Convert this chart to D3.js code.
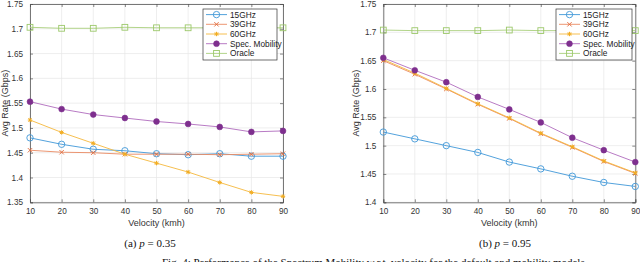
<!DOCTYPE html>
<html><head><meta charset="utf-8">
<script src="https://cdn.jsdelivr.net/npm/d3@7"></script>
<style>
html,body{margin:0;padding:0;background:#fff;overflow:hidden;}
svg{display:block;}
text{font-family:"Liberation Sans",Arial,sans-serif;}
</style></head>
<body>
<svg id="c" width="640" height="262"></svg>
<script>
const velocities = [10,20,30,40,50,60,70,80,90];
const seriesNames = ["15GHz","39GHz","60GHz","Spec. Mobility","Oracle"];

// (a) p = 0.35
const a15 = [1.480,1.467,1.457,1.454,1.448,1.446,1.448,1.443,1.443];
const a39 = [1.455,1.451,1.450,1.447,1.447,1.447,1.446,1.447,1.448];
const a60 = [1.516,1.491,1.469,1.447,1.429,1.411,1.390,1.370,1.362];
const aSpec = [1.553,1.538,1.527,1.520,1.513,1.508,1.502,1.492,1.494];
const aOracle = [1.703,1.701,1.701,1.703,1.702,1.702,1.702,1.702,1.702];
const aTicks = [1.35,1.4,1.45,1.5,1.55,1.6,1.65,1.7,1.75];

// (b) p = 0.95
const b15 = [1.524,1.512,1.500,1.488,1.471,1.459,1.446,1.435,1.428];
const b39 = [1.650,1.626,1.600,1.573,1.548,1.521,1.497,1.472,1.451];
const b60 = [1.652,1.628,1.601,1.574,1.549,1.522,1.498,1.473,1.452];
const bSpec = [1.655,1.633,1.612,1.586,1.564,1.541,1.514,1.492,1.471];
const bOracle = [1.704,1.703,1.703,1.703,1.704,1.703,1.703,1.703,1.703];
const bTicks = [1.4,1.45,1.5,1.55,1.6,1.65,1.7,1.75];

const xTicks = [10,20,30,40,50,60,70,80,90];

const styles = [
  {line:"#3f97d8", mk:"circle", stroke:"#3f97d8", fill:"none"},
  {line:"#ea8a62", mk:"x", stroke:"#e0693a", fill:"none"},
  {line:"#f5b83c", mk:"star", stroke:"#f2ad22", fill:"#f2ad22"},
  {line:"#b06cbd", mk:"dot", stroke:"#7E2F8E", fill:"#7E2F8E"},
  {line:"#a9cf7c", mk:"square", stroke:"#9cc86a", fill:"none"}
];

const svg = d3.select("#c");

function marker(g, type, x, y, st){
  if(type==="circle"){
    g.append("circle").attr("cx",x).attr("cy",y).attr("r",3.2)
     .attr("fill","none").attr("stroke",st.stroke).attr("stroke-width",0.9);
  } else if(type==="dot"){
    g.append("circle").attr("cx",x).attr("cy",y).attr("r",2.9)
     .attr("fill",st.fill).attr("stroke",st.stroke).attr("stroke-width",0.6);
  } else if(type==="square"){
    g.append("rect").attr("x",x-2.9).attr("y",y-2.9).attr("width",5.8).attr("height",5.8)
     .attr("fill","none").attr("stroke",st.stroke).attr("stroke-width",0.9);
  } else if(type==="x"){
    const s=2.2;
    g.append("path").attr("d",`M${x-s},${y-s}L${x+s},${y+s}M${x-s},${y+s}L${x+s},${y-s}`)
     .attr("stroke",st.stroke).attr("stroke-width",0.9);
  } else if(type==="star"){
    const s=2.2;
    g.append("path").attr("d",`M${x-s},${y}L${x+s},${y}M${x},${y-s}L${x},${y+s}M${x-s*0.75},${y-s*0.75}L${x+s*0.75},${y+s*0.75}M${x-s*0.75},${y+s*0.75}L${x+s*0.75},${y-s*0.75}`)
     .attr("stroke",st.stroke).attr("stroke-width",1);
  }
}

function panel(opts){
  const {x0,x1,y0,y1,yDomain,yTicks,data,legend,ylabelX} = opts;
  const x = d3.scaleLinear().domain([10,90]).range([x0,x1]);
  const y = d3.scaleLinear().domain(yDomain).range([y1,y0]);
  const g = svg.append("g");
  // grid
  g.append("g").selectAll("line.gx").data(xTicks).join("line")
    .attr("x1",d=>x(d)).attr("x2",d=>x(d)).attr("y1",y0).attr("y2",y1)
    .attr("stroke","#e6e6e6").attr("stroke-width",0.7);
  g.append("g").selectAll("line.gy").data(yTicks).join("line")
    .attr("x1",x0).attr("x2",x1).attr("y1",d=>y(d)).attr("y2",d=>y(d))
    .attr("stroke","#e6e6e6").attr("stroke-width",0.7);
  // axes with d3
  const ax = g.append("g").attr("transform",`translate(0,${y1})`)
    .call(d3.axisBottom(x).tickValues(xTicks).tickSize(-3).tickPadding(6).tickFormat(d3.format("d")));
  const axT = g.append("g").attr("transform",`translate(0,${y0})`)
    .call(d3.axisTop(x).tickValues(xTicks).tickSize(-3).tickFormat(""));
  const ay = g.append("g").attr("transform",`translate(${x0},0)`)
    .call(d3.axisLeft(y).tickValues(yTicks).tickSize(-3).tickPadding(7).tickFormat(d=>d3.format("")(+d.toFixed(2))));
  const ayR = g.append("g").attr("transform",`translate(${x1},0)`)
    .call(d3.axisRight(y).tickValues(yTicks).tickSize(-3).tickFormat(""));
  [ax,axT,ay,ayR].forEach(a=>{
    a.select(".domain").attr("stroke","#555").attr("stroke-width",0.8);
    a.selectAll(".tick line").attr("stroke","#555").attr("stroke-width",0.7);
    a.selectAll(".tick text").attr("fill","#333").style("font-size","8.2px").style("font-family","Liberation Sans, Arial, sans-serif");
  });
  // lines
  data.forEach((vals,i)=>{
    const st = styles[i];
    const line = d3.line().x((d,j)=>x(velocities[j])).y(d=>y(d));
    g.append("path").attr("d",line(vals)).attr("fill","none")
      .attr("stroke",st.line).attr("stroke-width",0.9);
    const mg = g.append("g");
    vals.forEach((v,j)=>marker(mg, st.mk, x(velocities[j]), y(v), st));
  });
  // labels
  g.append("text").attr("x",(x0+x1)/2).attr("y",226).attr("text-anchor","middle")
    .attr("fill","#333").style("font-size","9px").text("Velocity (kmh)");
  g.append("text").attr("transform",`translate(${ylabelX},${(y0+y1)/2}) rotate(-90)`)
    .attr("text-anchor","middle").attr("fill","#333").style("font-size","9px").text("Avg Rate (Gbps)");
  // legend
  const L = g.append("g");
  L.append("rect").attr("x",legend.x).attr("y",legend.y).attr("width",legend.w).attr("height",51)
    .attr("fill","#fff").attr("stroke","#333").attr("stroke-width",0.7);
  seriesNames.forEach((nm,i)=>{
    const ry = legend.y + 5.6 + i*9.7;
    const st = styles[i];
    L.append("line").attr("x1",legend.x+3).attr("x2",legend.x+24).attr("y1",ry).attr("y2",ry)
      .attr("stroke",st.line).attr("stroke-width",0.9);
    marker(L, st.mk, legend.x+13.5, ry, st);
    L.append("text").attr("x",legend.x+27).attr("y",ry+3).attr("fill","#222")
      .style("font-size","8.3px").text(nm);
  });
}

panel({x0:30,x1:283,y0:4,y1:202.3,yDomain:[1.35,1.75],yTicks:aTicks,
  data:[a15,a39,a60,aSpec,aOracle],legend:{x:203,y:9,w:74},ylabelX:7.5});
panel({x0:383.3,x1:635.3,y0:4,y1:202.3,yDomain:[1.4,1.75],yTicks:bTicks,
  data:[b15,b39,b60,bSpec,bOracle],legend:{x:556,y:9,w:76},ylabelX:359});

// captions
function caption(cx, label, val){
  const t = svg.append("text").attr("x",cx).attr("y",247).attr("text-anchor","middle")
    .style("font-family","Liberation Serif, Times New Roman, serif").style("font-size","11px").attr("fill","#111");
  t.append("tspan").text(label+" ");
  t.append("tspan").style("font-style","italic").text("p");
  t.append("tspan").text(" = "+val);
}
caption(150,"(a)","0.35");
caption(505,"(b)","0.95");

svg.append("text").attr("x",162).attr("y",265.5)
  .style("font-family","Liberation Serif, Times New Roman, serif").style("font-size","11px").attr("fill","#111")
  .text("Fig. 4: Performance of the Spectrum Mobility w.r.t. velocity for the default and mobility models.");
</script>
</body></html>
